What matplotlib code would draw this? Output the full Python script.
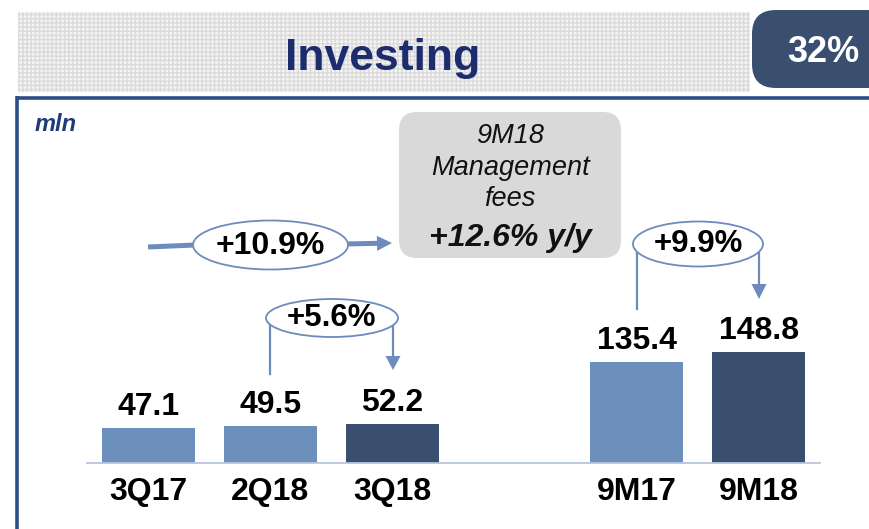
import matplotlib
matplotlib.use("Agg")
import matplotlib.pyplot as plt
from matplotlib.patches import Rectangle, FancyBboxPatch, Ellipse, FancyArrow

plt.rcParams['font.family'] = ['Liberation Sans', 'DejaVu Sans']

categories = ['3Q17', '2Q18', '3Q18', '9M17', '9M18']
positions = [0, 1, 2, 4, 5]
values = [47.1, 49.5, 52.2, 135.4, 148.8]
bar_colors = ['#6d8fbc', '#6d8fbc', '#3a4e6f', '#6d8fbc', '#3a4e6f']
growth_q = '+5.6%'
growth_9m = '+9.9%'
growth_yoy = '+10.9%'
title = 'Investing'
share = '32%'
unit = 'mln'
box_lines = ['9M18', 'Management', 'fees']
box_bold = '+12.6% y/y'

W, H = 870, 529
fig = plt.figure(figsize=(W / 100, H / 100), dpi=100)

# overlay in pixel coordinates (y down) for decoration
ov = fig.add_axes([0, 0, 1, 1])
ov.set_xlim(0, W)
ov.set_ylim(H, 0)
ov.axis('off')

#-------------------------------------------------------------------------------
# header banner
ov.add_patch(Rectangle((18, 12), 732, 80, facecolor='#f4f4f4', edgecolor='#dadada',
                       hatch='++++', linewidth=0))
ov.text(383, 70, title, ha='center', va='baseline', fontsize=32,
        fontweight='bold', color='#1d2c6c')

ov.add_patch(FancyBboxPatch((752, 10), 140, 78, boxstyle='round,pad=0,rounding_size=24',
                            facecolor='#3a4e6f', edgecolor='none'))
ov.text(823, 52, share, ha='center', va='center', fontsize=26,
        fontweight='bold', color='white')

# frame
line_c = '#2d4d87'
ov.plot([16, W], [97.5, 97.5], color=line_c, lw=2.6, solid_capstyle='butt')
ov.plot([17.5, 17.5], [96, H], color=line_c, lw=2.6, solid_capstyle='butt')
ov.text(35, 131, unit, ha='left', va='baseline', fontsize=17, fontweight='bold',
        fontstyle='italic', color='#1f3c78')

#-------------------------------------------------------------------------------
# grey box
ov.add_patch(FancyBboxPatch((399, 112), 222, 146, boxstyle='round,pad=0,rounding_size=18',
                            facecolor='#d9d9d9', edgecolor='none'))
for txt, y in zip(box_lines, [136, 168, 199]):
    ov.text(510, y, txt, ha='center', va='center', fontsize=19.5, fontstyle='italic',
            color='#111111')
ov.text(510, 238, box_bold, ha='center', va='center', fontsize=23, fontstyle='italic',
        fontweight='bold', color='#111111')

#-------------------------------------------------------------------------------
# growth callouts
arr_c = '#6d8bbd'

# +10.9% horizontal
ov.plot([148, 195], [247, 245], color=arr_c, lw=3.6, solid_capstyle='butt')
ov.add_patch(FancyArrow(346, 244, 46, -1, width=5, head_width=15, head_length=15,
                        length_includes_head=True, color=arr_c, lw=0))
ov.add_patch(Ellipse((270.5, 245), 155, 49, facecolor='white', edgecolor=arr_c, lw=1.3,
                     zorder=3))
ov.text(270.5, 246, growth_yoy, ha='center', va='center', fontsize=23,
        fontweight='bold', zorder=4)

# +5.6% quarter
ov.plot([270, 270], [318, 374], color=arr_c, lw=1.6)
ov.add_patch(FancyArrow(393, 318, 0, 52, width=2.2, head_width=15, head_length=14,
                        length_includes_head=True, color=arr_c, lw=0))
ov.add_patch(Ellipse((332, 318), 132, 38, facecolor='white', edgecolor=arr_c, lw=1.3,
                     zorder=3))
ov.text(332, 318, growth_q, ha='center', va='center', fontsize=22.5,
        fontweight='bold', zorder=4)

# +9.9% nine months
ov.plot([637, 637], [244, 309], color=arr_c, lw=1.6)
ov.add_patch(FancyArrow(759, 244, 0, 55, width=2.2, head_width=15, head_length=15,
                        length_includes_head=True, color=arr_c, lw=0))
ov.add_patch(Ellipse((698, 244), 130, 45, facecolor='white', edgecolor=arr_c, lw=1.3,
                     zorder=3))
ov.text(698, 244, growth_9m, ha='center', va='center', fontsize=22.5,
        fontweight='bold', zorder=4)

#-------------------------------------------------------------------------------
# bars
k = 111 / 148.8  # px per mln
ax = fig.add_axes([87 / W, 66 / H, 733 / W, 363 / H])
ax.patch.set_alpha(0)
bars = ax.bar(positions, values, width=0.76, color=bar_colors, zorder=2)
ax.bar_label(bars, labels=[f'{v:.1f}' for v in values], padding=4.5, fontsize=23,
             fontweight='bold')
ax.set_xlim(-0.5, 5.5)
ax.set_ylim(0, 363 / k)
ax.set_xticks(positions)
ax.set_xticklabels(categories, fontsize=23, fontweight='bold')
ax.tick_params(axis='x', length=0, pad=10)
ax.set_yticks([])
for s in ['top', 'left', 'right']:
    ax.spines[s].set_visible(False)
ax.spines['bottom'].set_color('#b6c5df')
ax.spines['bottom'].set_linewidth(1.3)

fig.savefig('out.png', dpi=100)
